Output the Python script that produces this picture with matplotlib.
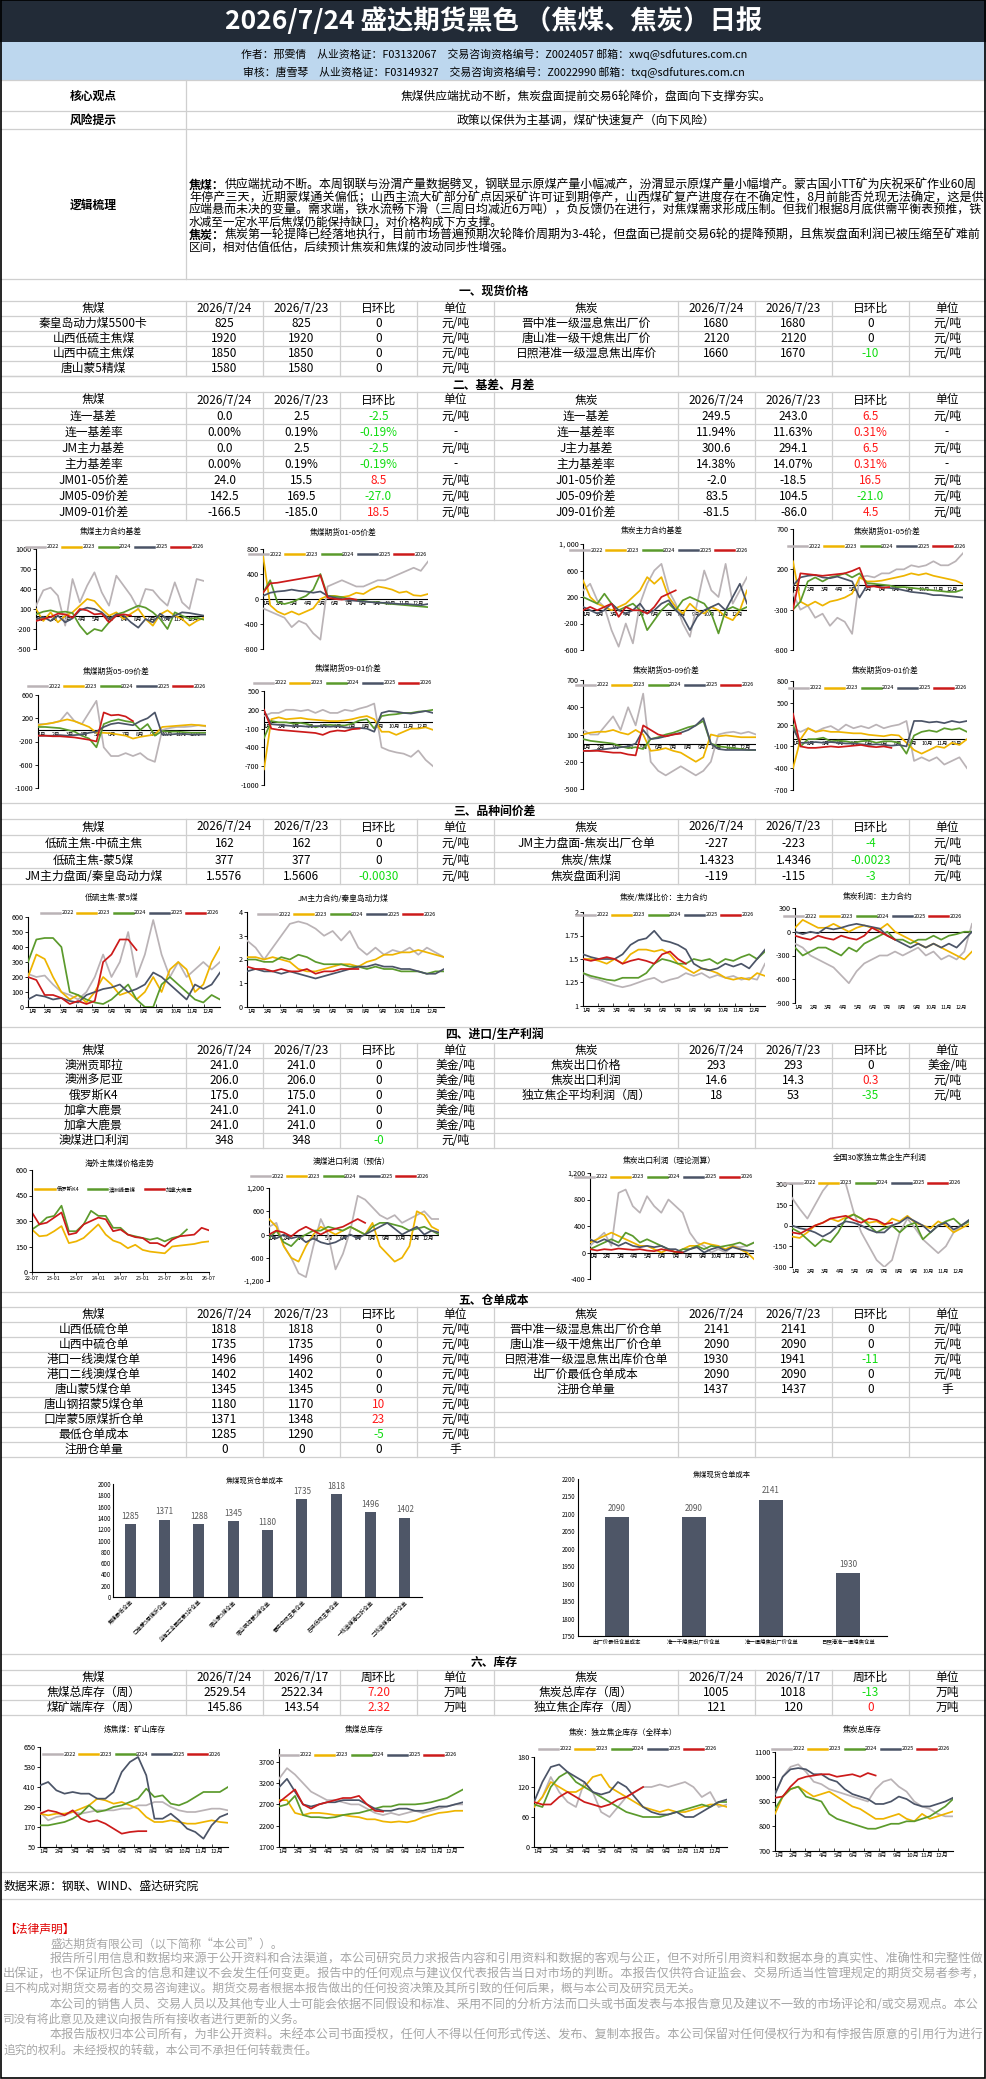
import numpy as np
import matplotlib
matplotlib.use('Agg')
import matplotlib.pyplot as plt
from matplotlib.lines import Line2D
from matplotlib.patches import Rectangle

plt.rcParams['font.family'] = ['Noto Sans CJK SC', 'DejaVu Sans']
plt.rcParams['axes.unicode_minus'] = False

# ------------------------------------------------------------------ data
TITLE = '2026/7/24 盛达期货黑色 （焦煤、焦炭）日报'
AUTHOR = '作者：邢雯倩　从业资格证：F03132067　交易咨询资格编号：Z0024057 邮箱：xwq@sdfutures.com.cn'
REVIEW = '审核：唐雪琴　从业资格证：F03149327　交易咨询资格编号：Z0022990 邮箱：txq@sdfutures.com.cn'
CORE = '焦煤供应端扰动不断，焦炭盘面提前交易6轮降价，盘面向下支撑夯实。'
RISK = '政策以保供为主基调，煤矿快速复产（向下风险）'
LOGIC = [
    ('焦煤：', '供应端扰动不断。本周钢联与汾渭产量数据劈叉，钢联显示原煤产量小幅减产，汾渭显示原煤产量小幅增产。蒙古国小TT矿为庆祝采矿作业60周', True),
    ('', '年停产三天，近期蒙煤通关偏低；山西主流大矿部分矿点因采矿许可证到期停产，山西煤矿复产进度存在不确定性，8月前能否兑现无法确定，这是供', True),
    ('', '应端悬而未决的变量。需求端，铁水流畅下滑（三周日均减近6万吨），负反馈仍在进行，对焦煤需求形成压制。但我们根据8月底供需平衡表预推，铁', True),
    ('', '水减至一定水平后焦煤仍能保持缺口，对价格构成下方支撑。', False),
    ('焦炭：', '焦炭第一轮提降已经落地执行，目前市场普遍预期次轮降价周期为3-4轮，但盘面已提前交易6轮的提降预期，且焦炭盘面利润已被压缩至矿难前', True),
    ('', '区间，相对估值低估，后续预计焦炭和焦煤的波动同步性增强。', False),
]

SPOT_L = [('秦皇岛动力煤5500卡', '825', '825', '0', '元/吨'), ('山西低硫主焦煤', '1920', '1920', '0', '元/吨'),
          ('山西中硫主焦煤', '1850', '1850', '0', '元/吨'), ('唐山蒙5精煤', '1580', '1580', '0', '元/吨')]
SPOT_R = [('晋中准一级湿息焦出厂价', '1680', '1680', '0', '元/吨'), ('唐山准一级干熄焦出厂价', '2120', '2120', '0', '元/吨'),
          ('日照港准一级湿息焦出库价', '1660', '1670', '-10', '元/吨')]
BASIS_L = [('连一基差', '0.0', '2.5', '-2.5', '元/吨'), ('连一基差率', '0.00%', '0.19%', '-0.19%', '-'),
           ('JM主力基差', '0.0', '2.5', '-2.5', '元/吨'), ('主力基差率', '0.00%', '0.19%', '-0.19%', '-'),
           ('JM01-05价差', '24.0', '15.5', '8.5', '元/吨'), ('JM05-09价差', '142.5', '169.5', '-27.0', '元/吨'),
           ('JM09-01价差', '-166.5', '-185.0', '18.5', '元/吨')]
BASIS_R = [('连一基差', '249.5', '243.0', '6.5', '元/吨'), ('连一基差率', '11.94%', '11.63%', '0.31%', '-'),
           ('J主力基差', '300.6', '294.1', '6.5', '元/吨'), ('主力基差率', '14.38%', '14.07%', '0.31%', '-'),
           ('J01-05价差', '-2.0', '-18.5', '16.5', '元/吨'), ('J05-09价差', '83.5', '104.5', '-21.0', '元/吨'),
           ('J09-01价差', '-81.5', '-86.0', '4.5', '元/吨')]
CROSS_L = [('低硫主焦-中硫主焦', '162', '162', '0', '元/吨'), ('低硫主焦-蒙5煤', '377', '377', '0', '元/吨'),
           ('JM主力盘面/秦皇岛动力煤', '1.5576', '1.5606', '-0.0030', '元/吨')]
CROSS_R = [('JM主力盘面-焦炭出厂仓单', '-227', '-223', '-4', '元/吨'), ('焦炭/焦煤', '1.4323', '1.4346', '-0.0023', '元/吨'),
           ('焦炭盘面利润', '-119', '-115', '-3', '元/吨')]
IMP_L = [('澳洲贡耶拉', '241.0', '241.0', '0', '美金/吨'), ('澳洲多尼亚', '206.0', '206.0', '0', '美金/吨'),
         ('俄罗斯K4', '175.0', '175.0', '0', '美金/吨'), ('加拿大鹿景', '241.0', '241.0', '0', '美金/吨'),
         ('加拿大鹿景', '241.0', '241.0', '0', '美金/吨'), ('澳煤进口利润', '348', '348', '-0', '元/吨')]
IMP_R = [('焦炭出口价格', '293', '293', '0', '美金/吨'), ('焦炭出口利润', '14.6', '14.3', '0.3', '元/吨'),
         ('独立焦企平均利润（周）', '18', '53', '-35', '元/吨')]
WR_L = [('山西低硫仓单', '1818', '1818', '0', '元/吨'), ('山西中硫仓单', '1735', '1735', '0', '元/吨'),
        ('港口一线澳煤仓单', '1496', '1496', '0', '元/吨'), ('港口二线澳煤仓单', '1402', '1402', '0', '元/吨'),
        ('唐山蒙5煤仓单', '1345', '1345', '0', '元/吨'), ('唐山钢招蒙5煤仓单', '1180', '1170', '10', '元/吨'),
        ('口岸蒙5原煤折仓单', '1371', '1348', '23', '元/吨'), ('最低仓单成本', '1285', '1290', '-5', '元/吨'),
        ('注册仓单量', '0', '0', '0', '手')]
WR_R = [('晋中准一级湿息焦出厂价仓单', '2141', '2141', '0', '元/吨'), ('唐山准一级干熄焦出厂价仓单', '2090', '2090', '0', '元/吨'),
        ('日照港准一级湿息焦出库价仓单', '1930', '1941', '-11', '元/吨'), ('出厂价最低仓单成本', '2090', '2090', '0', '元/吨'),
        ('注册仓单量', '1437', '1437', '0', '手')]
INV_L = [('焦煤总库存（周）', '2529.54', '2522.34', '7.20', '万吨'), ('煤矿端库存（周）', '145.86', '143.54', '2.32', '万吨')]
INV_R = [('焦炭总库存（周）', '1005', '1018', '-13', '万吨'), ('独立焦企库存（周）', '121', '120', '0', '万吨')]

YEARS = ['2022', '2023', '2024', '2025', '2026']

JM_BASIS = {
    '2022': [150, 380, 420, 300, -150, 550, 200, 450, 650, 350, 150, 600, 450, 300, 100, 400, 380, 250, 150, 500, 200, 100, 550, 520],
    '2023': [100, -80, 50, -100, 0, 50, 150, 250, 220, 100, 0, 50, -50, 30, 100, -50, -150, 20, 80, 0, -50, -150, -80, -30],
    '2024': [20, 60, 80, 50, 60, 40, -150, -280, -200, -230, -100, 20, 50, 100, 150, 120, 50, -50, -200, 50, 0, -50, -30, -60],
    '2025': [-50, -20, -80, 0, -100, -40, 80, 120, 100, 50, -50, 20, 0, -100, -180, -50, -100, 30, -50, 0, 50, 40, 20, 0],
    '2026': [-80, -50, -20, 30, 20, -30, 100, 80, 20, 30, -100, 0, 20, 0]}
JM_0105 = {
    '2022': [-150, -200, -250, -300, -450, -350, -400, -550, -650, 200, 250, 300, 250, 200, 200, 250, 300, 300, 350, 400, 450, 500, 450, 600],
    '2023': [700, -100, -200, -250, -200, -250, -200, -150, 0, 50, 50, 30, 50, 100, 80, 150, 200, 180, 150, 100, 120, 60, 50, 80],
    '2024': [100, 300, -50, -80, -50, 0, 50, 150, 400, 50, 40, 30, 0, -20, -30, -50, -50, -70, -80, -90, -100, -110, -120, -130],
    '2025': [50, 100, 120, 130, 150, 130, 120, 100, 120, 50, 20, 0, -20, -30, -40, -50, -60, -60, -70, -80, -80, -90, -100, -80],
    '2026': [100, 250, 260, 280, 300, 320, 340, 360, 380, 20, 0, -10, 10, -10]}
JM_0509 = {
    '2022': [100, 100, 120, 150, 300, 150, 100, 300, 500, -300, -450, -450, -400, -450, -400, -500, -550, 0, 30, 50, 50, 60, 80, 60],
    '2023': [80, 100, 120, 150, 180, 150, 100, 50, -50, -50, -60, -80, -100, -150, -120, -100, -80, 50, 60, 70, 80, 90, 80, 70],
    '2024': [50, 50, 40, 30, 0, -30, -100, -150, -300, 100, 150, 180, 150, 130, 0, 100, -100, -20, -30, -30, -40, -50, -50, -50],
    '2025': [-100, -100, -100, -90, -100, -90, -80, -50, -30, 50, 100, 120, 100, 80, 150, 200, 300, -80, -80, -70, -70, -80, -80, -80],
    '2026': [-100, -100, -110, -110, -120, -130, -150, -170, -200, 300, 250, 260, 230, 150]}
JM_0901 = {
    '2022': [100, 150, 150, 200, 200, 180, 200, 150, 200, 150, 150, 200, 180, 220, 250, 300, -400, -450, -480, -500, -550, -450, -600, -700],
    '2023': [-750, 50, 80, 50, 60, 70, 50, 40, 30, 20, 20, 30, 50, 80, 100, 50, -150, -150, -200, -150, -100, -100, -80, -120],
    '2024': [-250, 20, 0, 0, -20, -10, -30, -80, -50, -40, -50, -50, -20, 30, 50, -100, 100, 120, 130, 150, 150, 170, 180, 200],
    '2025': [180, -30, -40, -50, -60, -60, -70, -60, -60, -70, -60, -80, -90, -90, -100, -150, 150, 180, 170, 150, 140, 160, 180, 150],
    '2026': [200, -100, -120, -130, -140, -150, -160, -170, -200, -150, -130, -140, -110, -100]}
J_BASIS = {
    '2022': [300, 400, 150, 50, -300, -550, -200, -500, 100, 400, 600, 700, 300, 100, -200, -400, 100, 600, 300, 200, 700, 100, 300, 500],
    '2023': [450, 200, 100, 50, 0, 50, 100, 200, 300, 500, 400, 500, 200, 50, -50, 100, 0, -50, 50, 0, -100, -150, 0, 300],
    '2024': [200, 150, 100, 250, 100, 0, 50, 100, 0, -300, -150, 0, 100, 0, 150, 200, 150, 100, -50, -350, 0, 50, 0, 50],
    '2025': [50, 0, -50, 0, 100, 0, -50, 0, 100, -50, 0, 100, 150, 0, -100, -300, -100, 0, 50, 100, 0, 200, 400, 100],
    '2026': [0, 50, 0, 50, 100, -100, 50, 0, 0, -50, 50, 200, 250, 300]}
J_0105 = {
    '2022': [-100, -300, -250, -400, -350, -500, -400, -450, -600, 100, 120, 100, 150, 150, 200, 200, 250, 230, 250, 300, 250, 250, 300, 400],
    '2023': [300, -200, -250, -200, -250, -200, -180, -150, -100, 100, 50, 50, 60, 80, 100, 120, 150, 130, 150, 120, 100, 80, 60, 20],
    '2024': [-300, -200, 50, 100, 50, 100, 120, 150, 100, 150, 30, 20, 10, 0, -20, -20, -30, -40, -50, -60, -70, -80, -80, -50],
    '2025': [0, 100, 120, 130, 100, 90, 110, 80, 50, -150, 0, -10, -20, -30, -40, -60, -80, -90, -100, -120, -120, -130, -140, -150],
    '2026': [-300, 150, 140, 130, 120, 130, 140, 150, 180, 220, -20, -10, -30, -20]}
J_0509 = {
    '2022': [150, 100, 100, 200, 300, 150, 400, 200, 550, -200, -300, -350, -300, -250, -300, -350, -300, -200, 100, 120, 130, 110, 130, 100],
    '2023': [100, 120, 130, 130, 150, 120, 100, 150, 100, -80, -70, -50, -80, -100, -150, -200, -150, 100, 80, 90, 80, 70, 70, 70],
    '2024': [50, 30, 20, 10, 0, -30, -50, -40, -60, 50, 70, 100, 120, 150, 180, 200, 250, 0, -30, -40, -50, -60, -70, -70],
    '2025': [-80, -80, -70, -60, -50, -40, -30, 0, 150, 50, 60, 80, 100, 120, 150, 200, 280, 0, -60, -70, -70, -70, -70, -70],
    '2026': [-80, -80, -80, -90, -100, -100, -120, -130, 200, 150, 100, 80, 100, 110]}
J_0901 = {
    '2022': [150, 100, 150, 100, 150, 180, 120, 200, 150, 180, 150, 200, 150, 180, 200, 250, -300, -250, -300, -250, -350, -300, -250, -400],
    '2023': [-400, 0, 150, 100, 120, 100, 100, 90, 80, 80, 60, 50, 40, 60, 50, -50, -150, -200, -150, -100, -120, -50, -80, 0],
    '2024': [200, -100, 0, 0, 20, -30, -20, -30, -50, -30, -20, -50, -30, -30, -50, -200, 50, 100, 120, 100, 150, 130, 150, 100],
    '2025': [150, -50, -50, -40, -50, -40, -50, -60, -60, -70, -80, -70, -80, -90, -80, -100, 250, 250, 230, 240, 220, 250, 230, 250],
    '2026': [350, -100, -120, -120, -110, -100, -110, -100, -90, -80, -100, -110, -100, -120]}
LS_MG5 = {
    '2022': [220, 200, 210, 150, 100, 80, 50, 100, 200, 350, 200, 300, 500, 200, 350, 580, 350, 200, 300, 200, 250, 300, 250, 300],
    '2023': [200, 350, 320, 200, 100, 50, 80, 30, 100, 200, 150, 80, 100, 50, 100, 200, 100, 250, 300, 250, 100, 150, 300, 400],
    '2024': [300, 450, 460, 460, 400, 100, 80, 50, 30, 20, 50, 100, 150, 50, 0, 0, 150, 200, 150, 100, 50, 30, 80, 50],
    '2025': [50, 80, 70, 50, 60, 40, 30, 80, 100, 120, 130, 150, 100, 120, 150, 230, 200, 150, 100, 50, 150, 120, 150, 230],
    '2026': [200, 180, 80, 80, 60, 20, 40, 20, 40, 300, 350, 450, 450, 380]}
JM_QHD = {
    '2022': [2.8, 2.5, 2.0, 2.5, 3.0, 3.5, 3.6, 3.5, 3.3, 3.0, 3.2, 2.8, 3.2, 2.5, 2.2, 2.5, 2.2, 2.4, 2.3, 2.5, 2.2, 2.5, 2.3, 2.1],
    '2023': [2.1, 2.1, 2.0, 2.1, 2.0, 1.9, 1.6, 1.5, 1.5, 1.6, 1.7, 1.8, 1.8, 1.7, 1.9, 2.0, 2.2, 2.2, 2.3, 2.3, 2.4, 2.3, 2.2, 2.1],
    '2024': [2.0, 2.0, 1.9, 1.9, 2.1, 2.0, 2.2, 2.1, 1.9, 1.8, 1.8, 1.8, 1.7, 1.7, 1.6, 1.7, 1.6, 1.6, 1.5, 1.5, 1.5, 1.4, 1.5, 1.5],
    '2025': [1.5, 1.6, 1.5, 1.5, 1.4, 1.5, 1.4, 1.3, 1.2, 1.3, 1.4, 1.5, 1.6, 1.7, 1.7, 1.8, 1.7, 1.7, 1.6, 1.6, 1.5, 1.4, 1.4, 1.6],
    '2026': [1.7, 1.6, 1.6, 1.5, 1.6, 1.5, 1.5, 1.6, 1.4, 1.5, 1.5, 1.6, 1.6, 1.6]}
J_JM_RATIO = {
    '2022': [1.35, 1.30, 1.28, 1.25, 1.22, 1.20, 1.22, 1.25, 1.28, 1.30, 1.25, 1.28, 1.30, 1.35, 1.32, 1.35, 1.30, 1.33, 1.30, 1.32, 1.28, 1.30, 1.28, 1.45],
    '2023': [1.50, 1.50, 1.48, 1.45, 1.50, 1.45, 1.55, 1.60, 1.60, 1.58, 1.60, 1.55, 1.45, 1.40, 1.35, 1.40, 1.38, 1.35, 1.30, 1.28, 1.30, 1.28, 1.35, 1.32],
    '2024': [1.35, 1.32, 1.30, 1.28, 1.27, 1.30, 1.30, 1.30, 1.35, 1.45, 1.50, 1.48, 1.45, 1.45, 1.50, 1.48, 1.50, 1.45, 1.50, 1.48, 1.52, 1.55, 1.50, 1.58],
    '2025': [1.55, 1.52, 1.50, 1.50, 1.50, 1.55, 1.65, 1.70, 1.72, 1.80, 1.70, 1.68, 1.65, 1.60, 1.45, 1.40, 1.38, 1.40, 1.45, 1.42, 1.45, 1.40, 1.50, 1.60],
    '2026': [1.50, 1.48, 1.50, 1.52, 1.50, 1.45, 1.48, 1.50, 1.48, 1.45, 1.55, 1.58, 1.50, 1.45]}
J_PROFIT = {
    '2022': [-150, -200, -300, -350, -400, -450, -550, -650, -500, -400, -350, -300, -300, -250, -300, -250, -200, -300, -250, -350, -300, -350, -250, 100],
    '2023': [50, 150, 100, 50, 50, 100, 50, 0, 50, 80, 50, 30, 100, 0, -50, -100, -150, -200, -150, -200, -250, -300, -350, -250],
    '2024': [-200, -300, -250, -200, -200, -250, -300, -200, -250, -150, -100, -50, 0, -100, -100, -150, -100, -100, -50, -100, -50, -30, 0, 0],
    '2025': [0, -30, 0, -20, 50, 30, 50, 80, 100, 80, 60, 40, -50, -100, -150, -200, -150, -200, -150, -200, -150, -200, -100, 0],
    '2026': [-50, -80, -100, -50, -80, -100, -50, -80, -100, -50, 50, 0, -50, -100]}
OVERSEA_TICKS = ['22-07', '23-01', '23-07', '24-01', '24-07', '25-01', '25-07', '26-01', '26-07']
OVERSEA_NAMES = ['俄罗斯K4', '澳洲峰景煤', '加拿大鹿景']
RUS_K4 = [250, 210, 215, 240, 270, 170, 180, 200, 240, 280, 220, 185, 170, 140, 160, 130, 120, 115, 110, 150, 155, 160, 165, 175, 180]
AUS_PV = [250, 280, 320, 330, 390, 240, 240, 280, 360, 330, 330, 260, 260, 220, 210, 200, 190, 200, 180, 200, 210, 250]
CAN_LJ = [350, 280, 290, 320, 350, 220, 230, 280, 300, 320, 310, 240, 250, 220, 205, 200, 170, 170, 150, 190, 210, 215, 220, 260, 245]
AUS_IMP = {
    '2022': [200, 300, -300, -600, -1000, -1100, -300, 400, 0, -900, -500, 100, 1000, 900, 700, 500, 400, 500, 300, 400, 500, 600, 400, 400],
    '2023': [400, 200, -300, -600, -700, -300, 0, 200, 100, 0, 100, 200, 100, 0, 300, -300, -500, -700, -600, -300, 600, 500, 200, 100],
    '2024': [-100, 100, -200, -300, -100, 0, 100, 100, 200, 150, 100, 200, 100, 0, 200, 300, 300, 250, 200, 100, 150, 200, 100, 0],
    '2025': [0, -100, 0, -100, -50, -200, -100, -200, -250, -200, -100, 0, -100, 0, 100, 200, 300, 150, 0, 100, 200, 0, 100, 50],
    '2026': [0, 100, 50, -50, 100, 200, 100, 0, 100, 150, 200, 300, 400, 300]}
J_EXPORT = {
    '2022': [100, 200, 300, 100, 900, 950, 700, 600, 850, 700, 600, 800, 700, 600, 300, 150, 100, 0, 50, 0, 100, 80, 100, 150],
    '2023': [150, 200, 250, 300, 250, 200, 150, 100, 100, 50, 0, 50, 0, 50, 100, 100, 150, 120, 100, 50, 100, 50, 0, -100],
    '2024': [50, 100, 150, 200, 150, 300, 250, 150, 200, 150, 100, 50, 0, 50, 50, 100, 50, 100, 80, 100, 120, 150, 100, 150],
    '2025': [200, 150, 200, 150, 100, 150, 100, 80, 100, 80, 100, 50, 50, 0, 50, 80, 0, 50, 80, 30, 80, 50, 30, 20],
    '2026': [50, 30, 50, 40, 60, 50, 40, 50, 30, 20, 50, 30, 10, 0]}
COKE30 = {
    '2022': [200, 120, 50, 150, 250, 320, 340, 300, 100, -50, -150, -250, -300, -250, -50, 50, -20, -100, -150, -200, -150, -50, 0, 30],
    '2023': [-80, -90, -50, 0, 20, 50, 30, 60, 80, 50, 20, 30, 0, 50, 30, 70, 20, 0, -20, 30, 0, -50, -20, 10],
    '2024': [-20, -50, -100, -150, -100, -120, -50, 50, 80, 50, 0, -50, -20, 0, -50, 0, 20, -100, -50, 0, 30, 50, 0, 30],
    '2025': [0, -20, -30, -50, -80, -50, 0, 30, 20, 0, -30, -50, -50, 0, 20, 60, 30, 0, -50, 0, 20, -30, 0, 40],
    '2026': [-50, -60, -30, 0, 20, 50, 60, 70, 40, 20, 50, 40, 10, 20]}
BAR1_LABELS = ['焦煤最低仓单', '口岸蒙5原煤折仓单', '乌海工业园区蒙5折仓单', '唐山蒙5煤仓单', '唐山钢招蒙5煤仓单',
               '晋中中硫主焦仓单', '吕梁低硫主焦仓单', '一线澳煤港口折仓单', '二线澳煤港口折仓单']
BAR1_VALUES = [1285, 1371, 1288, 1345, 1180, 1735, 1818, 1496, 1402]
BAR2_LABELS = ['出厂价最低仓单成本', '准一干熄焦出厂价仓单', '准一湿熄焦出厂价仓单', '日照港准一湿熄焦仓单']
BAR2_VALUES = [2090, 2090, 2141, 1930]
MINE_INV = {
    '2022': [260, 210, 230, 240, 260, 250, 260, 270, 270, 270, 280, 280, 300, 300, 320, 320, 290, 270, 260, 260, 270, 280, 280, 270],
    '2023': [250, 240, 250, 250, 260, 280, 300, 340, 330, 310, 320, 300, 280, 230, 200, 200, 210, 200, 190, 190, 200, 210, 200, 195],
    '2024': [180, 180, 190, 200, 220, 250, 300, 260, 270, 290, 300, 320, 340, 400, 350, 360, 310, 300, 320, 350, 380, 380, 380, 410],
    '2025': [420, 440, 390, 370, 380, 370, 370, 340, 340, 380, 500, 560, 590, 480, 220, 220, 250, 210, 160, 140, 100, 180, 230, 250],
    '2026': [250, 270, 260, 240, 270, 220, 200, 210, 190, 160, 130, 140, 145, 145]}
JM_TOTAL_INV = {
    '2022': [3300, 3550, 3400, 3200, 3000, 2900, 2800, 2800, 2750, 2700, 2700, 2600, 2500, 2450, 2500, 2450, 2500, 2550, 2500, 2550, 2600, 2650, 2700, 2700],
    '2023': [2800, 2800, 2500, 2450, 2500, 2500, 2480, 2450, 2450, 2420, 2400, 2350, 2350, 2300, 2280, 2300, 2280, 2320, 2400, 2450, 2500, 2520, 2550, 2550],
    '2024': [2650, 2700, 2900, 2450, 2400, 2400, 2380, 2400, 2450, 2480, 2500, 2550, 2600, 2650, 2650, 2700, 2700, 2700, 2720, 2750, 2800, 2850, 2950, 3050],
    '2025': [3100, 3300, 3000, 2700, 2650, 2700, 2750, 2750, 2800, 2800, 2800, 2700, 2600, 2550, 2550, 2600, 2600, 2550, 2550, 2600, 2650, 2650, 2700, 2750],
    '2026': [2750, 2900, 3050, 2700, 2600, 2700, 2750, 2800, 2850, 2850, 2900, 2700, 2550, 2530]}
COKE_PLANT_INV = {
    '2022': [80, 100, 140, 110, 90, 80, 130, 110, 70, 60, 80, 100, 110, 120, 120, 125, 120, 125, 130, 120, 100, 110, 80, 85],
    '2023': [80, 100, 130, 120, 110, 110, 120, 140, 145, 120, 110, 100, 90, 80, 75, 70, 75, 70, 70, 75, 80, 85, 85, 80],
    '2024': [85, 80, 120, 140, 150, 130, 120, 110, 100, 90, 80, 70, 65, 60, 60, 60, 65, 70, 75, 80, 85, 80, 90, 90],
    '2025': [90, 130, 160, 165, 150, 140, 130, 110, 105, 110, 130, 120, 100, 80, 70, 65, 65, 70, 60, 60, 70, 80, 90, 95],
    '2026': [90, 85, 85, 100, 110, 100, 90, 85, 80, 85, 95, 100, 110, 120]}
COKE_TOTAL_INV = {
    '2022': [930, 1000, 1040, 1050, 1020, 980, 970, 950, 940, 930, 920, 910, 900, 950, 980, 990, 960, 940, 900, 880, 870, 850, 840, 840],
    '2023': [850, 920, 950, 960, 940, 920, 930, 940, 920, 900, 880, 870, 850, 830, 830, 840, 850, 830, 820, 850, 830, 840, 850, 860],
    '2024': [870, 920, 950, 960, 920, 910, 900, 850, 830, 820, 810, 800, 790, 790, 800, 810, 810, 820, 820, 830, 840, 860, 880, 910],
    '2025': [930, 1000, 1030, 1035, 1030, 1010, 1010, 990, 980, 950, 930, 920, 910, 890, 890, 900, 920, 910, 890, 880, 880, 890, 900, 915],
    '2026': [915, 920, 960, 990, 1000, 1005, 1010, 1010, 1000, 1005, 1010, 1000, 1015, 1005]}

LEGAL = [
    (50, '盛达期货有限公司（以下简称“本公司”）。', False),
    (50, '报告所引用信息和数据均来源于公开资料和合法渠道，本公司研究员力求报告内容和引用资料和数据的客观与公正，但不对所引用资料和数据本身的真实性、准确性和完整性做', True),
    (3, '出保证，也不保证所包含的信息和建议不会发生任何变更。报告中的任何观点与建议仅代表报告当日对市场的判断。本报告仅供符合证监会、交易所适当性管理规定的期货交易者参考，', True),
    (3, '且不构成对期货交易者的交易咨询建议。期货交易者根据本报告做出的任何投资决策及其所引致的任何后果，概与本公司及研究员无关。', False),
    (50, '本公司的销售人员、交易人员以及其他专业人士可能会依据不同假设和标准、采用不同的分析方法而口头或书面发表与本报告意见及建议不一致的市场评论和/或交易观点。本公', True),
    (3, '司没有将此意见及建议向报告所有接收者进行更新的义务。', False),
    (50, '本报告版权归本公司所有，为非公开资料。未经本公司书面授权，任何人不得以任何形式传送、发布、复制本报告。本公司保留对任何侵权行为和有悖报告原意的引用行为进行', True),
    (3, '追究的权利。未经授权的转载，本公司不承担任何转载责任。', False),
]

# ------------------------------------------------------------------ helpers
W, H = 987, 2079
fig = plt.figure(figsize=(W / 100, H / 100), dpi=100)
fig.patch.set_facecolor('white')
RENDERER = fig.canvas.get_renderer()

YCOL = ['#bab3b6', '#eeb400', '#5b9a2c', '#4b5467', '#cc1a1a']
GRID = '#cfcfcf'
STEP = 365 / 23


def X(x):
    return x / W


def Y(y):
    return 1 - y / H


def T(x, y, s, size=8.5, color='black', weight='normal', ha='center', va='center'):
    return fig.text(X(x), Y(y), s, fontsize=size, color=color, fontweight=weight, ha=ha, va=va)


def width_px(t):
    return t.get_window_extent(RENDERER).width


def line_fit(x, y, pre, rest, right, size, color='black', justify=True):
    """Draw an optionally bold prefix + text; stretch font size so a full line ends at `right`."""
    parts = []
    if pre:
        parts.append(T(x, y, pre, size=size, weight='bold', color=color, ha='left'))
    parts.append(T(x, y, rest, size=size, color=color, ha='left'))
    widths = [width_px(p) for p in parts]
    total = sum(widths)
    ratio = (right - x) / total if justify else min(1.0, (right - x) / total)
    cur = x
    for p, w in zip(parts, widths):
        p.set_fontsize(size * ratio)
        p.set_x(X(cur))
        cur += w * ratio


def HL(y, x0=1, x1=985, color=GRID, lw=0.9):
    fig.add_artist(Line2D([X(x0), X(x1)], [Y(y), Y(y)], color=color, lw=lw))


def VL(x, y0, y1, color=GRID, lw=0.9):
    fig.add_artist(Line2D([X(x), X(x)], [Y(y0), Y(y1)], color=color, lw=lw))


def RECT(x0, y0, x1, y1, fc, ec='none', lw=0, z=0):
    fig.add_artist(Rectangle((X(x0), Y(y1)), X(x1) - X(x0), Y(y0) - Y(y1), facecolor=fc, edgecolor=ec, lw=lw,
                             transform=fig.transFigure, zorder=z))


def add_ax(x0, yt, x1, yb):
    ax = fig.add_axes([X(x0), Y(yb), X(x1) - X(x0), Y(yt) - Y(yb)])
    ax.patch.set_alpha(0)
    return ax


def legend(cx, cy, labels, colors, fs=4.0, hl=3.4, cs=0.6):
    hs = [Line2D([], [], color=c, lw=1.8) for c in colors]
    fig.legend(hs, labels, loc='center', bbox_to_anchor=(X(cx), Y(cy)), ncol=len(labels), fontsize=fs,
               frameon=False, handlelength=hl, handletextpad=0.3, columnspacing=cs, borderpad=0, borderaxespad=0)


COLS = [1, 186, 263, 340, 417, 494, 678, 755, 832, 909, 985]


def chg_color(s):
    if s.startswith('-'):
        return '#12dd12'
    try:
        return '#ff1a1a' if float(s.rstrip('%')) != 0 else 'black'
    except ValueError:
        return 'black'


def table(title, top, ty, lines, hdr2, hdr3, left, right, override=None):
    override = override or {}
    HL(top)
    T(494, ty, title, weight='bold')
    for y in lines:
        HL(y)
    for x in COLS[1:-1]:
        VL(x, lines[0], lines[-1])
    header = ['焦煤', '2026/7/24', hdr2, hdr3, '单位', '焦炭', '2026/7/24', hdr2, hdr3, '单位']
    cy = (lines[0] + lines[1]) / 2
    for i, h in enumerate(header):
        T((COLS[i] + COLS[i + 1]) / 2, cy, h)
    for r in range(len(lines) - 2):
        cy = (lines[r + 1] + lines[r + 2]) / 2
        for side, rows, off in ((0, left, 0), (1, right, 5)):
            if r < len(rows):
                for j, s in enumerate(rows[r]):
                    col = chg_color(s) if j == 3 else 'black'
                    if j == 3 and (side, r) in override:
                        col = override[(side, r)]
                    T((COLS[off + j] + COLS[off + j + 1]) / 2, cy, s, color=col)


def season(rect, ylim, yticks, ylabels, data, title, title_xy, leg_xy, mlab='zero', mfs=3.9):
    x0, yt, x1, yb = rect
    ax = add_ax(x0, yt, x1, yb)
    for yr, col in zip(YEARS, YCOL):
        v = data[yr]
        ax.plot(np.arange(len(v)) * STEP, v, color=col, lw=1.25, solid_joinstyle='round', zorder=3)
    ax.set_xlim(0, 365)
    ax.set_ylim(*ylim)
    for s in ('top', 'right'):
        ax.spines[s].set_visible(False)
    ax.spines['left'].set_color('black')
    ax.spines['left'].set_linewidth(0.8)
    ax.set_yticks(yticks)
    ax.set_yticklabels(ylabels, fontsize=5.2)
    ax.tick_params(axis='y', length=2, width=0.6, pad=1.2)
    months = np.arange(12) * 365 / 12
    crosses = ylim[0] < 0 < ylim[1]
    if crosses:
        ax.spines['bottom'].set_visible(False)
        ax.axhline(0, color='black', lw=0.8, zorder=2)
        ax.set_xticks([])
    else:
        ax.spines['bottom'].set_color('black')
        ax.spines['bottom'].set_linewidth(0.8)
        ax.set_xticks(months)
        ax.set_xticklabels([])
        ax.tick_params(axis='x', length=2, width=0.5, direction='in')
    yv = 0 if (mlab == 'zero' and crosses) else ylim[0]
    for m in range(12):
        ax.annotate(f'{m + 1}月', xy=(months[m] + 8, yv), xytext=(0, -1.2), textcoords='offset points',
                    ha='center', va='top', fontsize=mfs, annotation_clip=False, zorder=1)
    T(title_xy[0], title_xy[1], title, size=5.6)
    legend(leg_xy[0], leg_xy[1], YEARS, YCOL)
    return ax


# ------------------------------------------------------------------ header
RECT(0, 0, 987, 42, '#222b37')
T(494, 21, TITLE, size=19, color='white', weight='bold')
RECT(0, 42, 987, 80, '#bdd7ee')
T(494, 54, AUTHOR, size=7.8)
T(494, 72, REVIEW, size=7.8)

for y in (80, 111, 129):
    HL(y)
VL(186, 80, 279)
T(93, 96, '核心观点', weight='bold')
T(586, 96, CORE)
T(93, 120, '风险提示', weight='bold')
T(586, 120, RISK)
T(93, 205, '逻辑梳理', weight='bold')
for i, (pre, rest, full) in enumerate(LOGIC):
    line_fit(189, 185 + i * 12.5, pre, rest, 979, 8.4, justify=full)

# ------------------------------------------------------------------ tables
table('一、现货价格', 279, 291, [301, 316, 331, 346, 361, 376], '2026/7/23', '日环比', SPOT_L, SPOT_R)
table('二、基差、月差', 376, 385, [392, 408, 424, 440, 456, 472, 488, 504, 520], '2026/7/23', '日环比', BASIS_L, BASIS_R)
table('三、品种间价差', 803, 811, [819, 835, 852, 868, 884], '2026/7/23', '日环比', CROSS_L, CROSS_R)
table('四、进口/生产利润', 1027, 1035, [1043, 1058, 1073, 1088, 1103, 1118, 1133, 1148], '2026/7/23', '日环比', IMP_L, IMP_R)
table('五、仓单成本', 1292, 1300, [1307, 1322, 1337, 1352, 1367, 1382, 1397, 1412, 1427, 1442, 1457], '2026/7/23', '日环比', WR_L, WR_R)
table('六、库存', 1654, 1662, [1670, 1685, 1700, 1715], '2026/7/17', '周环比', INV_L, INV_R, override={(1, 1): '#ff1a1a'})

# ------------------------------------------------------------------ section 2 charts
season((36, 549, 204, 649), (-500, 1000), [1000, 700, 400, 100, -200, -500], ['1000', '700', '400', '100', '-200', '-500'],
       JM_BASIS, '焦煤主力合约基差', (111, 532), (115, 547))
season((263, 549, 428, 649), (-800, 800), [800, 400, 0, -400, -800], ['800', '400', '0', '-400', '-800'],
       JM_0105, '焦煤期货01-05价差', (343, 533), (338, 554))
season((38, 695, 206, 788), (-1000, 600), [600, 200, -200, -600, -1000], ['600', '200', '-200', '-600', '-1000'],
       JM_0509, '焦煤期货05-09价差', (116, 672), (117, 686))
season((264, 691, 433, 785), (-1000, 500), [500, 200, -100, -400, -700, -1000], ['500', '200', '-100', '-400', '-700', '-1000'],
       JM_0901, '焦煤期货09-01价差', (348, 669), (343, 683))
season((583, 544, 747, 650), (-600, 1000), [1000, 600, 200, -200, -600], ['1, 000', '600', '200', '-200', '-600'],
       J_BASIS, '焦炭主力合约基差', (652, 531), (659, 550))
season((793, 529, 963, 650), (-800, 700), [700, 200, -300, -800], ['700', '200', '-300', '-800'],
       J_0105, '焦炭期货01-05价差', (887, 532), (877, 546))
season((583, 680, 756, 789), (-500, 700), [700, 400, 100, -200, -500], ['700', '400', '100', '-200', '-500'],
       J_0509, '焦炭期货05-09价差', (666, 671), (665, 685))
season((793, 681, 967, 790), (-700, 800), [800, 500, 200, -100, -400, -700], ['800', '500', '200', '-100', '-400', '-700'],
       J_0901, '焦炭期货09-01价差', (885, 671), (878, 688))

# ------------------------------------------------------------------ section 3 charts
season((28, 917, 220, 1007), (0, 600), list(range(0, 601, 100)), [str(v) for v in range(0, 601, 100)],
       LS_MG5, '低硫主焦-蒙5煤', (112, 898), (130, 913), mlab='bottom')
season((247, 912, 444, 1007), (0, 4), [0, 1, 2, 3, 4], ['0', '1', '2', '3', '4'],
       JM_QHD, 'JM主力合约/秦皇岛动力煤', (343, 899), (347, 914), mlab='bottom')
season((583, 912, 765, 1006), (1, 2), [1, 1.25, 1.5, 1.75, 2], ['1', '1.25', '1.5', '1.75', '2'],
       J_JM_RATIO, '焦炭/焦煤比价：主力合约', (664, 898), (665, 915), mlab='bottom')
season((795, 908, 972, 1003), (-900, 300), [300, 0, -300, -600, -900], ['300', '0', '-300', '-600', '-900'],
       J_PROFIT, '焦炭利润：主力合约', (878, 897), (873, 916), mlab='bottom')

# ------------------------------------------------------------------ section 4 charts
ax = add_ax(32, 1170, 209, 1272)
mi = np.arange(25) * 2
for vals, col in zip((RUS_K4, AUS_PV, CAN_LJ), ('#eeb400', '#5b9a2c', '#cc1a1a')):
    ax.plot(mi[:len(vals)], vals, color=col, lw=1.25, solid_joinstyle='round')
ax.set_xlim(0, 48)
ax.set_ylim(0, 600)
for s in ('top', 'right'):
    ax.spines[s].set_visible(False)
for s in ('left', 'bottom'):
    ax.spines[s].set_color('black')
    ax.spines[s].set_linewidth(0.8)
ax.set_yticks([0, 150, 300, 450, 600])
ax.set_yticklabels(['0', '150', '300', '450', '600'], fontsize=5.2)
ax.set_xticks(np.arange(9) * 6)
ax.set_xticklabels(OVERSEA_TICKS, fontsize=3.9)
ax.tick_params(axis='y', length=2, width=0.6, pad=1.2)
ax.tick_params(axis='x', length=2, width=0.5, pad=1)
T(120, 1164, '海外主焦煤价格走势', size=5.6)
legend(114, 1189, OVERSEA_NAMES, ['#eeb400', '#5b9a2c', '#cc1a1a'], fs=3.9, hl=3.6, cs=1.6)

season((269, 1188, 439, 1281), (-1200, 1200), [1200, 600, 0, -600, -1200], ['1,200', '600', '0', '-600', '-1,200'],
       AUS_IMP, '澳煤进口利润（预估）', (351, 1162), (340, 1176))
season((590, 1173, 754, 1279), (-400, 1200), [1200, 800, 400, 0, -400], ['1,200', '800', '400', '0', '-400'],
       J_EXPORT, '焦炭出口利润（理论测算）', (669, 1161), (664, 1177))
season((792, 1184, 969, 1267), (-300, 300), [300, 150, 0, -150, -300], ['300', '150', '0', '-150', '-300'],
       COKE30, '全国30家独立焦企生产利润', (880, 1158), (872, 1183), mlab='bottom')

# ------------------------------------------------------------------ section 5 bar charts
BAR_C = '#4e5667'
ax = add_ax(113, 1484, 422, 1597)
ax.bar(np.arange(len(BAR1_VALUES)), BAR1_VALUES, width=0.33, color=BAR_C)
for i, v in enumerate(BAR1_VALUES):
    ax.text(i, v + 60, str(v), ha='center', va='bottom', fontsize=5.8, color='#595959')
ax.set_xlim(-0.5, len(BAR1_VALUES) - 0.5)
ax.set_ylim(0, 2000)
ax.set_yticks(range(0, 2001, 200))
ax.set_yticklabels([str(v) for v in range(0, 2001, 200)], fontsize=4.4)
ax.set_xticks(np.arange(len(BAR1_VALUES)))
ax.set_xticklabels(BAR1_LABELS, rotation=45, ha='right', rotation_mode='anchor', fontsize=3.9)
ax.tick_params(axis='both', length=0, pad=1.5)
for s in ('top', 'right'):
    ax.spines[s].set_visible(False)
for s in ('left', 'bottom'):
    ax.spines[s].set_color('black')
    ax.spines[s].set_linewidth(0.8)
T(255, 1481, '焦煤现货仓单成本', size=5.2)

ax = add_ax(578, 1479, 887, 1636)
ax.bar(np.arange(len(BAR2_VALUES)), BAR2_VALUES, width=0.31, color=BAR_C)
for i, v in enumerate(BAR2_VALUES):
    ax.text(i, v + 12, str(v), ha='center', va='bottom', fontsize=5.8, color='#595959')
ax.set_xlim(-0.5, len(BAR2_VALUES) - 0.5)
ax.set_ylim(1750, 2200)
ax.set_yticks(range(1750, 2201, 50))
ax.set_yticklabels([str(v) for v in range(1750, 2201, 50)], fontsize=4.4)
ax.set_xticks(np.arange(len(BAR2_VALUES)))
ax.set_xticklabels(BAR2_LABELS, fontsize=3.9)
ax.tick_params(axis='both', length=0, pad=2)
for s in ('top', 'right'):
    ax.spines[s].set_visible(False)
for s in ('left', 'bottom'):
    ax.spines[s].set_color('black')
    ax.spines[s].set_linewidth(0.8)
T(722, 1475, '焦煤现货仓单成本', size=5.2)

# ------------------------------------------------------------------ section 6 charts
season((40, 1747, 228, 1847), (50, 650), [50, 170, 290, 410, 530, 650], ['50', '170', '290', '410', '530', '650'],
       MINE_INV, '炼焦煤：矿山库存', (135, 1730), (132, 1754), mlab='bottom', mfs=4.3)
season((279, 1749, 463, 1847), (1700, 4000), [1700, 2200, 2700, 3200, 3700], ['1700', '2200', '2700', '3200', '3700'],
       JM_TOTAL_INV, '焦煤总库存', (364, 1730), (368, 1755), mlab='bottom', mfs=4.3)
season((534, 1757, 727, 1847), (0, 180), [0, 60, 120, 180], ['0', '60', '120', '180'],
       COKE_PLANT_INV, '焦炭：独立焦企库存（全样本）', (623, 1733), (628, 1749), mlab='bottom', mfs=4.3)
season((775, 1752, 953, 1851), (700, 1100), [700, 800, 900, 1000, 1100], ['700', '800', '900', '1000', '1100'],
       COKE_TOTAL_INV, '焦炭总库存', (862, 1730), (861, 1749), mlab='bottom', mfs=4.3)

# ------------------------------------------------------------------ footer
HL(1872)
T(4, 1886, '数据来源：钢联、WIND、盛达研究院', ha='left')
HL(1899)
T(4, 1929, '【法律声明】', color='#e00000', ha='left')
legal_y = [1945, 1959, 1974, 1988, 2004, 2019, 2035, 2050]
for (x, s, full), y in zip(LEGAL, legal_y):
    line_fit(x, y, '', s, 979, 8.4, color='#a6a6a6', justify=full)

RECT(1, 0, 985, 2078, 'none', ec='black', lw=1.2, z=10)

fig.savefig('out.png', dpi=100, facecolor='white')
